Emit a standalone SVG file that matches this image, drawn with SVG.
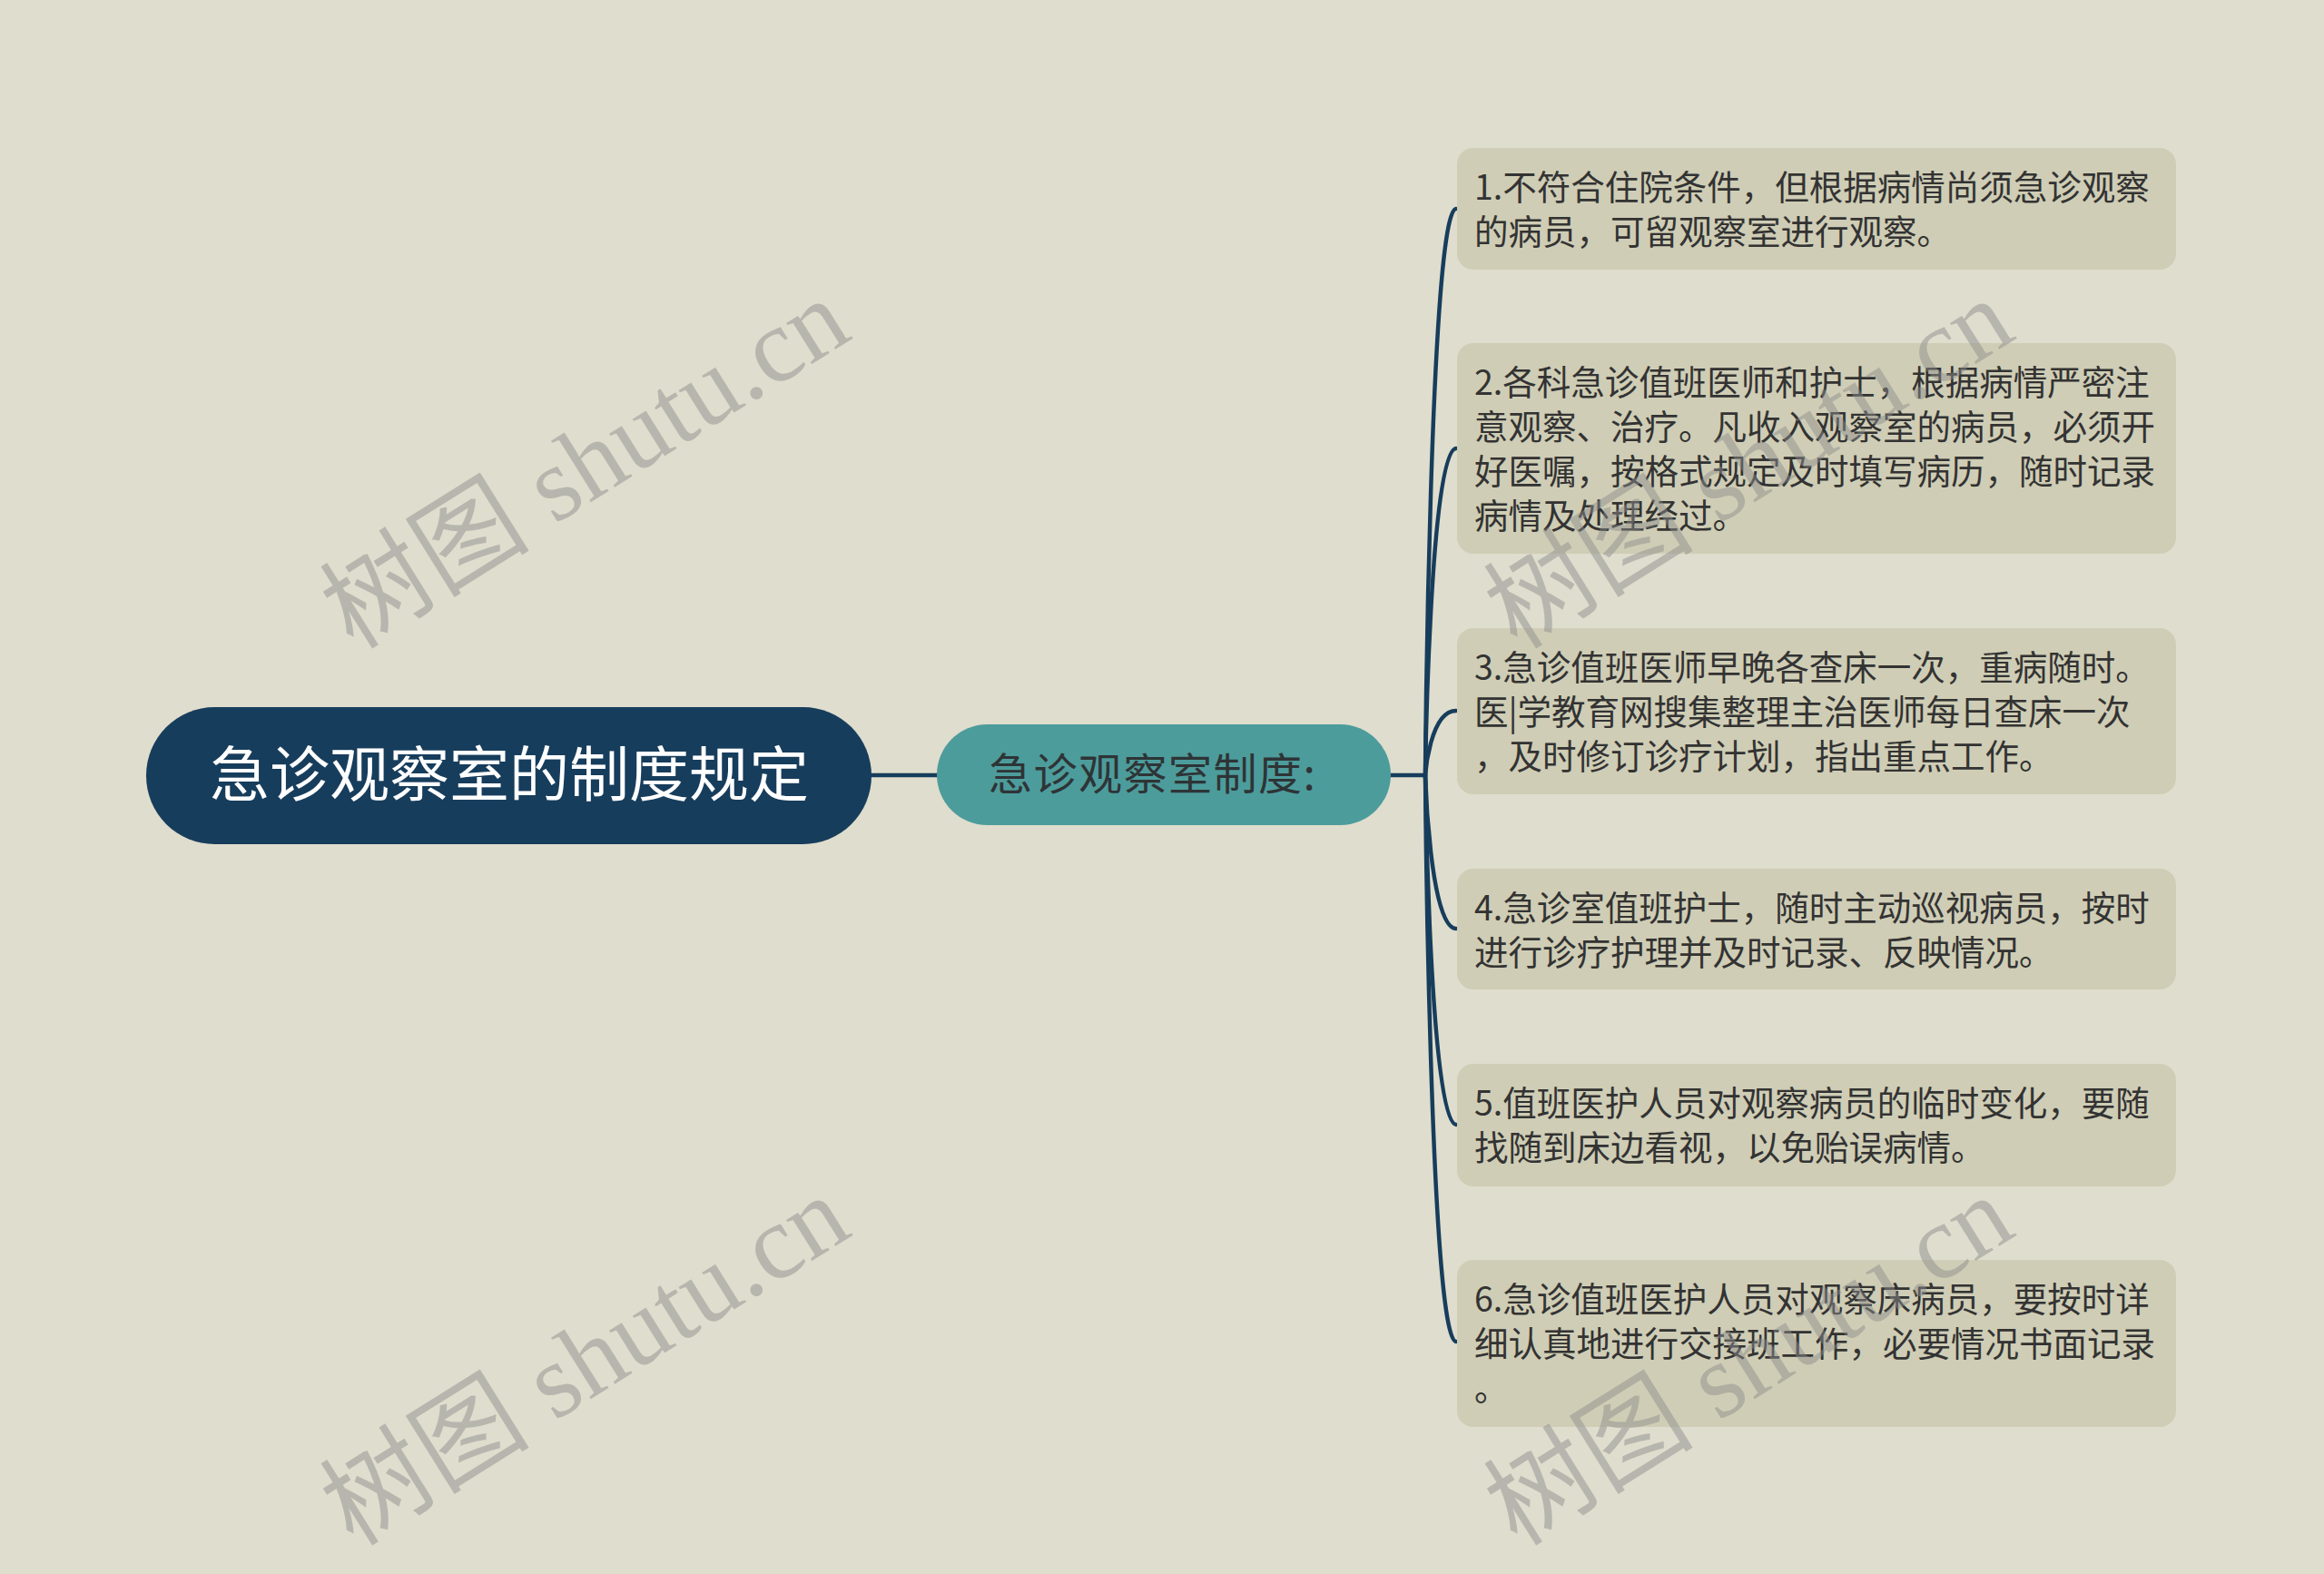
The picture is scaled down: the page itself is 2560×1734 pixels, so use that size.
<svg xmlns="http://www.w3.org/2000/svg" width="2560" height="1734" viewBox="0 0 2560 1734">
<style>
.conn{fill:none;stroke:#173d5c;stroke-width:4.5;stroke-linecap:round}
.leaf rect{fill:#cfcdb5}
.leaf text{font-family:"Noto Sans CJK SC","Noto Sans",sans-serif;font-size:37.5px;fill:#333333}
.wm{font-family:"Liberation Serif","Noto Sans CJK SC",serif;font-size:116px;fill:#8c8c8c;fill-opacity:0.48;text-anchor:middle}
</style>
<rect x="0" y="0" width="2560" height="1734" fill="#dfddcd"/>
<g id="connectors">
<path class="conn" d="M960 854 H1034"/>
<path class="conn" d="M1530 854 H1570"/>
<path class="conn" d="M1570 854 C1570 854 1575 230 1604 230"/>
<path class="conn" d="M1570 854 C1570 854 1575 494 1604 494"/>
<path class="conn" d="M1570 854 C1570 854 1575 783 1604 783"/>
<path class="conn" d="M1570 854 C1570 854 1575 1023 1604 1023"/>
<path class="conn" d="M1570 854 C1570 854 1575 1239 1604 1239"/>
<path class="conn" d="M1570 854 C1570 854 1575 1478 1604 1478"/>
</g>
<g id="root">
<rect x="161" y="779" width="799" height="151" rx="75.5" fill="#173d5c"/>
<text x="561" y="877" text-anchor="middle" font-family="Noto Sans CJK SC, sans-serif" font-size="66" fill="#ffffff">急诊观察室的制度规定</text>
</g>
<g id="mid">
<rect x="1032" y="798" width="500" height="111" rx="55.5" fill="#4d9c9c"/>
<text x="1089" y="870" font-family="Noto Sans CJK SC, sans-serif" font-size="48" letter-spacing="1.5" fill="#2e3436">急诊观察室制度:</text>
</g>
<g id="leaf1" class="leaf">
<rect x="1605" y="163" width="792" height="134" rx="18"/>
<text x="1624" y="220">1.不符合住院条件，但根据病情尚须急诊观察</text>
<text x="1624" y="269">的病员，可留观察室进行观察。</text>
</g>
<g id="leaf2" class="leaf">
<rect x="1605" y="378" width="792" height="232" rx="18"/>
<text x="1624" y="435">2.各科急诊值班医师和护士，根据病情严密注</text>
<text x="1624" y="484">意观察、治疗。凡收入观察室的病员，必须开</text>
<text x="1624" y="533">好医嘱，按格式规定及时填写病历，随时记录</text>
<text x="1624" y="582">病情及处理经过。</text>
</g>
<g id="leaf3" class="leaf">
<rect x="1605" y="692" width="792" height="183" rx="18"/>
<text x="1624" y="749">3.急诊值班医师早晚各查床一次，重病随时。</text>
<text x="1624" y="798">医|学教育网搜集整理主治医师每日查床一次</text>
<text x="1624" y="847">，及时修订诊疗计划，指出重点工作。</text>
</g>
<g id="leaf4" class="leaf">
<rect x="1605" y="957" width="792" height="133" rx="18"/>
<text x="1624" y="1014">4.急诊室值班护士，随时主动巡视病员，按时</text>
<text x="1624" y="1063">进行诊疗护理并及时记录、反映情况。</text>
</g>
<g id="leaf5" class="leaf">
<rect x="1605" y="1172" width="792" height="135" rx="18"/>
<text x="1624" y="1229">5.值班医护人员对观察病员的临时变化，要随</text>
<text x="1624" y="1278">找随到床边看视，以免贻误病情。</text>
</g>
<g id="leaf6" class="leaf">
<rect x="1605" y="1388" width="792" height="184" rx="18"/>
<text x="1624" y="1445">6.急诊值班医护人员对观察床病员，要按时详</text>
<text x="1624" y="1494">细认真地进行交接班工作，必要情况书面记录</text>
<text x="1624" y="1543">。</text>
</g>
<g id="watermarks">
<text class="wm" transform="translate(645,512) rotate(-32)" x="0" y="38">树图 shutu.cn</text>
<text class="wm" transform="translate(1927,512) rotate(-32)" x="0" y="38">树图 shutu.cn</text>
<text class="wm" transform="translate(645,1500) rotate(-32)" x="0" y="38">树图 shutu.cn</text>
<text class="wm" transform="translate(1927,1500) rotate(-32)" x="0" y="38">树图 shutu.cn</text>
</g>
</svg>
